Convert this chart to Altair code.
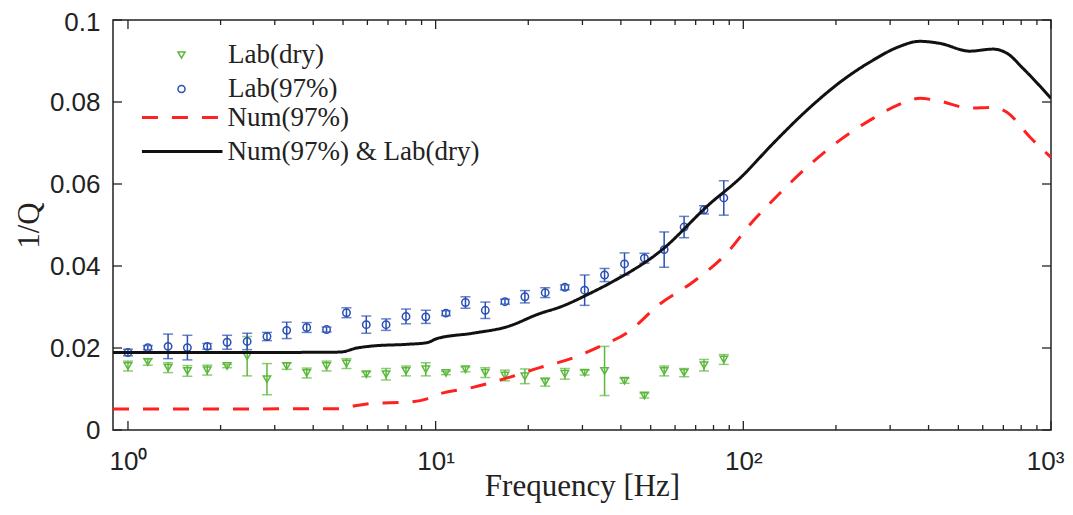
import altair as alt
import pandas as pd

W, H = 938, 410

# ---------------- data ----------------
point_freq = [1.00, 1.16, 1.35, 1.56, 1.81, 2.10, 2.44, 2.83, 3.28, 3.81, 4.42,
              5.13, 5.95, 6.90, 8.01, 9.29, 10.8, 12.5, 14.5, 16.8, 19.5, 22.7,
              26.3, 30.5, 35.4, 41.1, 47.7, 55.3, 64.2, 74.5, 86.4]

dry_val = [0.0156, 0.0166, 0.0152, 0.0144, 0.0146, 0.0156, 0.0180, 0.0124, 0.0156, 0.0139, 0.0156,
           0.0162, 0.0136, 0.0136, 0.0144, 0.0148, 0.0139, 0.0148, 0.0140, 0.0133, 0.0131, 0.0117,
           0.0137, 0.0140, 0.0144, 0.0120, 0.0084, 0.0144, 0.0140, 0.0158, 0.0172]
dry_err = [0.0012, 0.0008, 0.0012, 0.0013, 0.0012, 0.0004, 0.0048, 0.0038, 0.0008, 0.0012, 0.0012,
           0.0012, 0.0006, 0.0014, 0.0012, 0.0016, 0.0004, 0.0006, 0.0012, 0.0013, 0.0018, 0.0010,
           0.0013, 0.0006, 0.0060, 0.0006, 0.0006, 0.0012, 0.0010, 0.0014, 0.0012]

wet_val = [0.0189, 0.0201, 0.0204, 0.0201, 0.0204, 0.0214, 0.0216, 0.0228, 0.0243, 0.0250, 0.0245,
           0.0286, 0.0257, 0.0257, 0.0277, 0.0276, 0.0285, 0.0311, 0.0292, 0.0313, 0.0325, 0.0335,
           0.0348, 0.0341, 0.0378, 0.0405, 0.0419, 0.0440, 0.0495, 0.0537, 0.0566]
wet_err = [0.0008, 0.0005, 0.0030, 0.0030, 0.0007, 0.0017, 0.0020, 0.0010, 0.0020, 0.0012, 0.0006,
           0.0012, 0.0021, 0.0014, 0.0018, 0.0016, 0.0006, 0.0014, 0.0020, 0.0006, 0.0015, 0.0012,
           0.0006, 0.0037, 0.0016, 0.0027, 0.0012, 0.0043, 0.0026, 0.0010, 0.0042]

num_freq = [0.894, 4.89, 5.55, 6.25, 8.07, 9.37, 10.1, 13.2, 17.1, 21.8, 28.0, 34.2, 41.7, 53.5,
            68.6, 88.3, 107, 125, 161, 206, 264, 316, 375, 435, 545, 647, 719, 855, 1000]
num_val = [0.0051, 0.0052, 0.0060, 0.0065, 0.0068, 0.0076, 0.0086, 0.0104, 0.0127, 0.0152, 0.0176,
           0.0204, 0.0236, 0.0307, 0.0361, 0.0431, 0.0508, 0.0561, 0.0641, 0.0707, 0.0760, 0.0792,
           0.0809, 0.0802, 0.0785, 0.0787, 0.0775, 0.0714, 0.0665]

comb_freq = [0.894, 2.49, 4.89, 5.55, 6.25, 8.07, 9.37, 10.1, 13.2, 17.1, 21.8, 25.4, 31.7, 36.8,
             53.5, 77.9, 97.5, 125, 161, 206, 264, 316, 375, 435, 545, 647, 719, 811, 1000]
comb_val = [0.0189, 0.0189, 0.0190, 0.0200, 0.0205, 0.0209, 0.0213, 0.0223, 0.0236, 0.0252, 0.0284,
            0.0300, 0.0333, 0.0358, 0.0435, 0.0552, 0.0614, 0.0699, 0.0780, 0.0848, 0.0902, 0.0933,
            0.0948, 0.0943, 0.0924, 0.0929, 0.0919, 0.0882, 0.0809]

point_series = ["Lab(dry)", "Lab(97%)"]
point_colors = ["#5cb83c", "#2a4fb5"]
point_shapes = ["triangle-down", "circle"]
line_series = ["Num(97%)", "Num(97%) & Lab(dry)"]
line_colors = ["#ff2020", "#111111"]
line_dash = [[16, 14], [1, 0]]

x_major = [1, 10, 100, 1000]
x_minor = [2, 3, 4, 5, 6, 7, 8, 9, 20, 30, 40, 50, 60, 70, 80, 90,
           200, 300, 400, 500, 600, 700, 800, 900]
y_ticks = [0, 0.02, 0.04, 0.06, 0.08, 0.1]

# ---------------- tables ----------------
pts = pd.concat([
    pd.DataFrame({"freq": point_freq, "val": dry_val,
                  "lo": [v - e for v, e in zip(dry_val, dry_err)],
                  "hi": [v + e for v, e in zip(dry_val, dry_err)],
                  "series": point_series[0]}),
    pd.DataFrame({"freq": point_freq, "val": wet_val,
                  "lo": [v - e for v, e in zip(wet_val, wet_err)],
                  "hi": [v + e for v, e in zip(wet_val, wet_err)],
                  "series": point_series[1]}),
], ignore_index=True)

lines = pd.concat([
    pd.DataFrame({"freq": num_freq, "val": num_val, "series": line_series[0]}),
    pd.DataFrame({"freq": comb_freq, "val": comb_val, "series": line_series[1]}),
], ignore_index=True)

# ---------------- scales / axes ----------------
xscale = alt.Scale(type="log", domain=[0.894, 1000], nice=False)
yscale = alt.Scale(domain=[0, 0.1], nice=False, zero=False)

xaxis = alt.Axis(values=x_major, ticks=False, domain=False, grid=False,
                 labelExpr="datum.value == 1 ? '10⁰' : datum.value == 10 ? '10¹' : datum.value == 100 ? '10²' : '10³'",
                 labelFont="Liberation Sans", labelFontSize=26, labelColor="#222",
                 labelPadding=18, labelFlush=False,
                 labelOffset={"condition": {"test": "datum.value == 1000", "value": -6}, "value": 0},
                 title="Frequency [Hz]", titleFont="Liberation Serif", titleFontSize=31,
                 titleFontWeight="normal", titleColor="#222", titlePadding=-3)
yaxis = alt.Axis(values=y_ticks, ticks=False, domain=False, grid=False, format=".2~f",
                 labelFont="Liberation Sans", labelFontSize=26, labelColor="#222",
                 labelPadding=13, labelFlush=False,
                 labelOffset={"condition": {"test": "datum.value >= 0.099", "value": 2}, "value": 0},
                 title="1/Q", titleFont="Liberation Serif", titleFontSize=31,
                 titleFontWeight="normal", titleColor="#222", titlePadding=4)

X = alt.X("freq:Q", scale=xscale, axis=xaxis)
Y = alt.Y("val:Q", scale=yscale, axis=yaxis)

pt_legend = alt.Legend(title=None, orient="none", legendX=55, legendY=21.5,
                       labelFont="Liberation Serif", labelFontSize=27, labelColor="#222",
                       labelOffset=33, rowPadding=6, padding=0, symbolSize=50,
                       symbolStrokeWidth=1.5, symbolFillColor="transparent", labelLimit=400)
# a long horizontal stroke drawn with a small symbol box: keeps rows compact
ln_legend = alt.Legend(title=None, orient="none", legendX=55.7, legendY=84,
                       labelFont="Liberation Serif", labelFontSize=27, labelColor="#222",
                       labelOffset=31.8, rowPadding=6, padding=0, symbolSize=240,
                       symbolStrokeWidth=3, symbolType="M-5.2,0L5.2,0", labelLimit=400)

base_pts = alt.Chart(pts)

layers = []
for i in range(2):
    sub = base_pts.transform_filter(alt.datum.series == point_series[i])
    layers.append(sub.mark_rule(color=point_colors[i], strokeWidth=1.5).encode(
        x=X, y=alt.Y("lo:Q", scale=yscale, axis=yaxis), y2="hi:Q"))
    layers.append(sub.transform_fold(["lo", "hi"], as_=["end", "ev"]).mark_tick(
        color=point_colors[i], orient="horizontal", size=10, thickness=1.5).encode(
        x=X, y=alt.Y("ev:Q", scale=yscale, axis=yaxis)))

layers.append(base_pts.mark_point(filled=False, strokeWidth=1.5, opacity=1, size=55).encode(
    x=X, y=Y,
    color=alt.Color("series:N", scale=alt.Scale(domain=point_series, range=point_colors), legend=pt_legend),
    shape=alt.Shape("series:N", scale=alt.Scale(domain=point_series, range=point_shapes), legend=pt_legend)))

layers.append(alt.Chart(lines).mark_line(strokeWidth=3, clip=True, interpolate="monotone").encode(
    x=X, y=Y,
    color=alt.Color("series:N", scale=alt.Scale(domain=line_series, range=line_colors), legend=ln_legend),
    strokeDash=alt.StrokeDash("series:N", scale=alt.Scale(domain=line_series, range=line_dash), legend=ln_legend)))

# inward ticks (MATLAB-style box)
tick_col = "#222"
maj = pd.DataFrame({"freq": x_major})
mnr = pd.DataFrame({"freq": x_minor})
yt = pd.DataFrame({"val": y_ticks})
for df, L in ((maj, 9), (mnr, 5)):
    layers.append(alt.Chart(df).mark_rule(color=tick_col, strokeWidth=1.3).encode(
        x=X, y=alt.value(H), y2=alt.value(H - L)))
    layers.append(alt.Chart(df).mark_rule(color=tick_col, strokeWidth=1.3).encode(
        x=X, y=alt.value(0), y2=alt.value(L)))
layers.append(alt.Chart(yt).mark_rule(color=tick_col, strokeWidth=1.3).encode(
    y=Y, x=alt.value(0), x2=alt.value(9)))
layers.append(alt.Chart(yt).mark_rule(color=tick_col, strokeWidth=1.3).encode(
    y=Y, x=alt.value(W), x2=alt.value(W - 9)))

chart = alt.layer(*layers).resolve_scale(
    color="independent", shape="independent", strokeDash="independent"
).resolve_legend(
    color="independent", shape="independent", strokeDash="independent"
).properties(
    width=W, height=H,
    autosize=alt.AutoSizeParams(type="none"),
    padding={"left": 105, "top": 12, "right": 14, "bottom": 76},
    background="white",
).configure_view(stroke="#222", strokeWidth=1.5)

chart.save("out.html", embed_options={"renderer": "svg", "actions": False})
